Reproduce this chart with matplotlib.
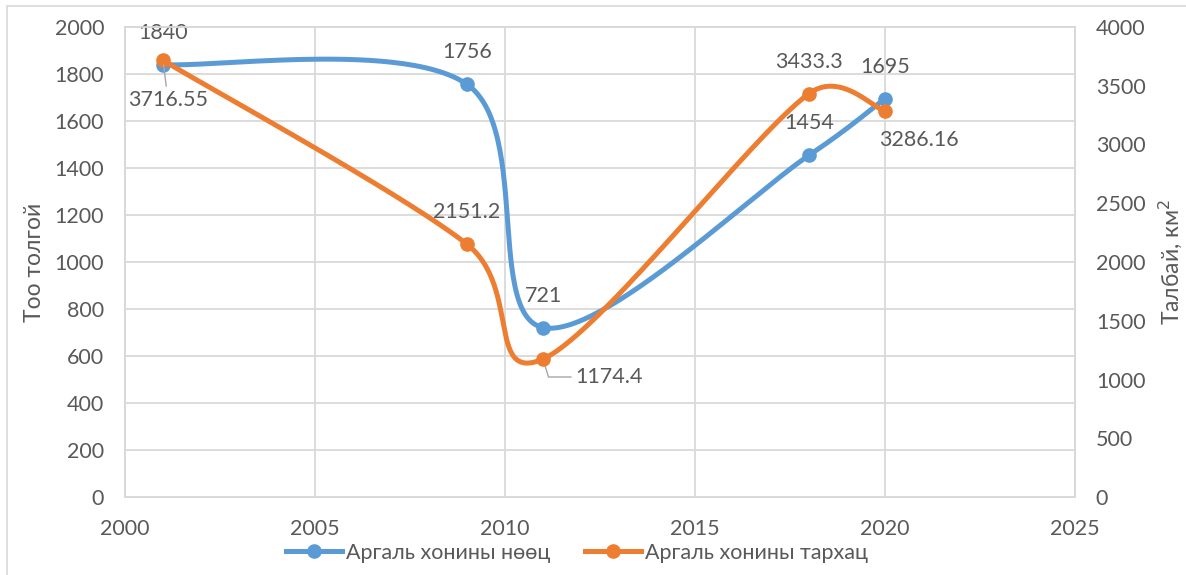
import numpy as np
import matplotlib.pyplot as plt
from matplotlib.patches import Rectangle

plt.rcParams['font.family'] = ['Lato', 'DejaVu Sans']

years = [2001, 2009, 2011, 2018, 2020]
stock = [1840, 1756, 721, 1454, 1695]             # Аргаль хонины нөөц (left axis)
area = [3716.55, 2151.2, 1174.4, 3433.3, 3286.16]  # Аргаль хонины тархац (right axis)

BLUE = '#5B9BD5'
ORANGE = '#ED7D31'
TXT = '#595959'
GRID = '#D9D9D9'
FS = 15.5

W, H = 950.0, 470.0  # plot area size in pixels, used for Excel-like smoothing


def smooth(xs, ys, ymax, n=60):
    # Excel style smoothing: cubic bezier, control arms capped at half the segment
    p = np.column_stack([(np.array(xs) - 2000) / 25 * W, np.array(ys) / ymax * H])
    out = []
    for i in range(len(p) - 1):
        p0 = p[i - 1] if i > 0 else p[i]
        p1, p2 = p[i], p[i + 1]
        p3 = p[i + 2] if i + 2 < len(p) else p[i + 1]
        half = np.linalg.norm(p2 - p1) / 2
        v1 = (p2 - p0) / 6
        v2 = (p3 - p1) / 6
        if np.linalg.norm(v1) > half:
            v1 = v1 / np.linalg.norm(v1) * half
        if np.linalg.norm(v2) > half:
            v2 = v2 / np.linalg.norm(v2) * half
        c1 = p1 + v1
        c2 = p2 - v2
        t = np.linspace(0, 1, n)[:, None]
        seg = (1 - t) ** 3 * p1 + 3 * (1 - t) ** 2 * t * c1 + 3 * (1 - t) * t ** 2 * c2 + t ** 3 * p2
        out.append(seg)
    pts = np.vstack(out)
    return pts[:, 0] / W * 25 + 2000, pts[:, 1] / H * ymax


fig = plt.figure(figsize=(11.86, 5.75), dpi=100)
ax = fig.add_axes([125 / 1186, 78 / 575, 950 / 1186, 470 / 575])
ax2 = ax.twinx()

# chart border
fig.patches.append(Rectangle((7 / 1186, -0.1), 1.2, (575 - 6) / 575 + 0.1, transform=fig.transFigure,
                             fill=False, edgecolor=GRID, lw=1.2))

ax.set_xlim(2000, 2025)
ax.set_ylim(0, 2000)
ax2.set_ylim(0, 4000)
ax.set_xticks(range(2000, 2026, 5))
ax.set_yticks(range(0, 2001, 200))
ax2.set_yticks(range(0, 4001, 500))
ax.grid(True, color=GRID, lw=1.3)
ax.set_axisbelow(True)
for a in (ax, ax2):
    for s in a.spines.values():
        s.set_color(GRID)
        s.set_linewidth(1.3)
    a.tick_params(length=0, labelsize=FS, labelcolor=TXT)
ax.tick_params(axis='y', pad=15)
ax.tick_params(axis='x', pad=16)
ax2.tick_params(axis='y', pad=15)

ax.set_ylabel('Тоо толгой', fontsize=16.5, color=TXT)
ax2.set_ylabel('Талбай, км$^2$', fontsize=16.5, color=TXT, labelpad=8)
ax.yaxis.set_label_coords(-80 / 950, 0.5)

sx, sy = smooth(years, stock, 2000)
ax.plot(sx, sy, color=BLUE, lw=3.6, solid_capstyle='round', zorder=3)
ax.plot(years, stock, 'o', color=BLUE, ms=9.5, zorder=4)

ox, oy = smooth(years, area, 4000)
ax2.plot(ox, oy, color=ORANGE, lw=3.6, solid_capstyle='round', zorder=3)
ax2.plot(years, area, 'o', color=ORANGE, ms=9.5, zorder=4)

lab = dict(textcoords='offset pixels', ha='center', va='center', fontsize=FS, color=TXT)
for x, y in zip(years, stock):
    ax.annotate(f'{y}', (x, y), xytext=(0, 32), **lab)

lead = dict(arrowstyle='-', color='#A6A6A6', lw=1, shrinkA=1, shrinkB=3)
ax2.annotate('3716.55', (2001, 3716.55), xytext=(5, -40),
             arrowprops=lead, zorder=5, **lab)
ax2.annotate('2151.2', (2009, 2151.2), xytext=(0, 32), **lab)
ax2.annotate('1174.4', (2011, 1174.4), xytext=(66, -18),
             arrowprops=dict(lead, relpos=(0, 0.5), connectionstyle='angle,angleA=0,angleB=-73,rad=0'),
             **lab)
ax2.annotate('3433.3', (2018, 3433.3), xytext=(0, 32), **lab)
ax2.annotate('3286.16', (2020, 3286.16), xytext=(34, -29), **lab)

h1 = plt.Line2D([], [], color=BLUE, lw=3.6, marker='o', ms=9.5)
h2 = plt.Line2D([], [], color=ORANGE, lw=3.6, marker='o', ms=9.5)
leg = fig.legend([h1, h2], ['Аргаль хонины нөөц', 'Аргаль хонины тархац'], loc='center',
                 bbox_to_anchor=(577 / 1186, 1 - 553 / 575), ncol=2, frameon=False, fontsize=15.5,
                 handlelength=2.6, handletextpad=0.2, columnspacing=1.6, labelcolor=TXT)

fig.savefig('out.png', dpi=100)
